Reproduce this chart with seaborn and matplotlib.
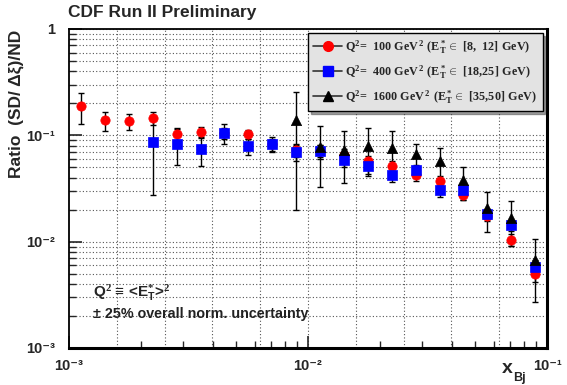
import numpy as np
import pandas as pd
import matplotlib
matplotlib.use("Agg")
import matplotlib.pyplot as plt
import seaborn as sns
from matplotlib.lines import Line2D
from matplotlib.ticker import LogLocator, FuncFormatter, NullFormatter

# ---- data ----
x_bins = [1.12e-3, 1.41e-3, 1.78e-3, 2.24e-3, 2.82e-3, 3.55e-3, 4.47e-3, 5.62e-3, 7.08e-3, 8.91e-3,
          1.12e-2, 1.41e-2, 1.78e-2, 2.24e-2, 2.82e-2, 3.55e-2, 4.47e-2, 5.62e-2, 7.08e-2, 8.91e-2]

q100_y = [0.189, 0.138, 0.136, 0.145, 0.103, 0.107, 0.105, 0.102, 0.082, 0.073,
          0.072, 0.0656, 0.0568, 0.0517, 0.0426, 0.0374, 0.0276, 0.0176, 0.0104, 0.0050]
q100_e = [0.060, 0.028, 0.023, 0.020, 0.013, 0.012, 0.012, 0.010, 0.010, 0.010,
          0.009, 0.008, 0.007, 0.006, 0.005, 0.004, 0.003, 0.0020, 0.0013, 0.0008]

q400_x = x_bins[3:]
q400_y = [0.0863, 0.0832, 0.0741, 0.106, 0.0791, 0.0832, 0.0695,
          0.0705, 0.0589, 0.0517, 0.0426, 0.0467, 0.0303, 0.0303, 0.0182, 0.0142, 0.0058]
q400_e = [0.059, 0.031, 0.023, 0.023, 0.014, 0.013, 0.012,
          0.010, 0.009, 0.008, 0.006, 0.006, 0.004, 0.003, 0.002, 0.0015, 0.0009]

q1600_x = x_bins[9:]
q1600_y = [0.138, 0.0775, 0.073, 0.0797, 0.0759, 0.0666, 0.0568, 0.0377, 0.0207, 0.0167, 0.0067]
q1600_e = [0.118, 0.045, 0.037, 0.038, 0.034, 0.017, 0.019, 0.013, 0.0085, 0.0076, 0.0040]

labels = [r"$\mathrm{Q^2\!=\ 100\ GeV^{\,2}\ (E^*_T \in\ [8,\ 12]\ GeV)}$",
          r"$\mathrm{Q^2\!=\ 400\ GeV^{\,2}\ (E^*_T \in\ [18{,}25]\ GeV)}$",
          r"$\mathrm{Q^2\!=\ 1600\ GeV^{\,2}\ (E^*_T \in\ [35{,}50]\ GeV)}$"]
colors = ["#ff0000", "#0000ff", "#000000"]
markers = ["o", "s", "^"]

df = pd.concat([
    pd.DataFrame({"x": x_bins, "y": q100_y, "e": q100_e, "s": labels[0]}),
    pd.DataFrame({"x": q400_x, "y": q400_y, "e": q400_e, "s": labels[1]}),
    pd.DataFrame({"x": q1600_x, "y": q1600_y, "e": q1600_e, "s": labels[2]}),
], ignore_index=True)

sns.set_style("white")
plt.rcParams["font.family"] = ["Liberation Sans", "DejaVu Sans"]
plt.rcParams["mathtext.fontset"] = "custom"
plt.rcParams["mathtext.rm"] = "Liberation Serif:bold"
plt.rcParams["mathtext.bf"] = "Liberation Sans:bold"
plt.rcParams["mathtext.sf"] = "Liberation Sans:bold"
plt.rcParams["mathtext.it"] = "Liberation Sans:bold"

fig = plt.figure(figsize=(5.67, 3.85), dpi=100)
ax = fig.add_axes([69/567, 1-348/385, 478/567, 319/385])
ax.set_xscale("log")
ax.set_yscale("log")
ax.set_xlim(1e-3, 1e-1)
ax.set_ylim(1e-3, 1)

# grid: x every 0.2 decade, y at every minor decade value
for k in range(1, 10):
    ax.axvline(10 ** (-3 + 0.2 * k), color="#555555", lw=0.8, ls=(0, (1, 2)), zorder=0)
ax.yaxis.set_minor_locator(LogLocator(base=10, subs=np.arange(2, 10)))
ax.grid(True, axis="y", which="both", color="#555555", lw=0.8, ls=(0, (1, 2)), zorder=0)
ax.set_axisbelow(True)

for lab, c, m in zip(labels, colors, markers):
    d = df[df.s == lab]
    ax.errorbar(d.x, d.y, yerr=d.e, fmt="none", ecolor="black", elinewidth=1.0,
                capsize=2, capthick=1.0, zorder=2)
for lab, c, m, sz in zip(labels, colors, markers, [45, 45, 55]):
    d = df[df.s == lab]
    sns.scatterplot(data=d, x="x", y="y", marker=m, color=c, s=sz, edgecolor=c,
                    linewidth=0.5, ax=ax, zorder=3, legend=False)

ax.set_xlabel("")
ax.set_ylabel("")

# ticks
ax.xaxis.set_major_locator(LogLocator(base=10, numticks=10))
ax.xaxis.set_minor_locator(LogLocator(base=10, subs=np.arange(2, 10), numticks=20))
ax.xaxis.set_minor_formatter(NullFormatter())
ax.yaxis.set_minor_formatter(NullFormatter())
ax.tick_params(axis="both", which="major", direction="in", length=9, width=1.2,
               bottom=True, left=True, top=False, right=False, labelsize=10.5)
ax.tick_params(axis="both", which="minor", direction="in", length=5, width=1.0,
               bottom=True, left=True, top=False, right=False)

SUP = str.maketrans("-0123456789", "\u207b\u2070\u00b9\u00b2\u00b3\u2074\u2075\u2076\u2077\u2078\u2079")
def fmt(v, pos):
    e = int(round(np.log10(v)))
    if e == 0:
        return "1"
    return "10" + str(e).translate(SUP)
ax.xaxis.set_major_formatter(FuncFormatter(fmt))
ax.yaxis.set_major_formatter(FuncFormatter(fmt))
for t in ax.get_xticklabels() + ax.get_yticklabels():
    t.set_fontweight("bold")
ax.tick_params(axis="x", pad=8)
ax.tick_params(axis="y", pad=10)

for side in ["left", "top"]:
    ax.spines[side].set_linewidth(1.3)
    ax.spines[side].set_color("black")
for side in ["right", "bottom"]:
    ax.spines[side].set_linewidth(2.2)
    ax.spines[side].set_color("black")

# legend
handles = [Line2D([], [], color="#333333", lw=1.2, marker=m, markersize=7,
                  markerfacecolor=c, markeredgecolor=c) for c, m in zip(colors, markers)]
leg = ax.legend(handles, labels, loc="upper left", bbox_to_anchor=(0.50, 0.988),
                borderaxespad=0, fontsize=8.7, frameon=True, fancybox=False, shadow=True,
                facecolor="#e3e3e3", edgecolor="black", framealpha=1, handlelength=2.4,
                handletextpad=0.25, labelspacing=0.6, borderpad=0.45)
leg.get_frame().set_linewidth(1.0)

# texts
fig.text(68/567, 1-13/385, "CDF Run II Preliminary", fontsize=12.5, fontweight="bold",
         ha="left", va="center")
fig.text(16/567, 1-30/385, "Ratio  (SD/ Δξ)/ND", fontsize=12.5, fontweight="bold",
         rotation=90, ha="center", va="top")
fig.text(507/567, 1-373/385, "x", fontsize=14, fontweight="bold", ha="center", va="baseline")
fig.text(519/567, 1-381/385, "Bj", fontsize=9, fontweight="bold", ha="center", va="baseline")
ax.text(0.05, 0.16, r"Q$^{2}$ ≡ <E$^{*}_{T}$>$^{2}$", transform=ax.transAxes,
        fontsize=11, fontweight="bold", ha="left", va="baseline")
ax.text(0.05, 0.094, "± 25% overall norm. uncertainty", transform=ax.transAxes,
        fontsize=10.3, fontweight="bold", ha="left", va="baseline", color="#222222")

fig.savefig("out.png", dpi=100)
